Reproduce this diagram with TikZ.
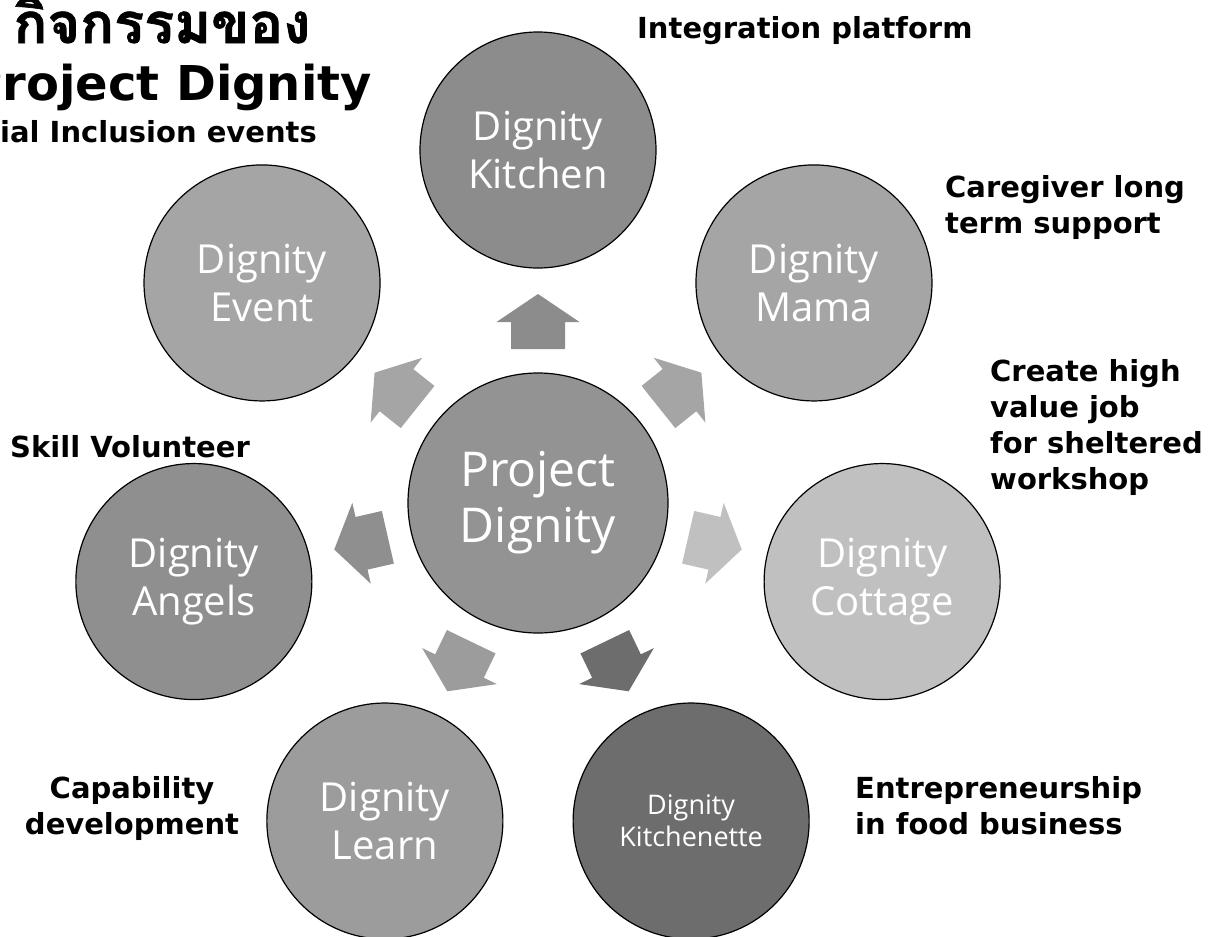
\documentclass[tikz,border=0pt]{standalone}
\usepackage{fontspec}
\setmainfont{DejaVu Sans}
\newfontfamily\circfont{Open Sans}
\newfontfamily\thaifont[Script=Thai, FakeBold=1.2]{Loma}
\definecolor{centrec}{HTML}{939393}
\definecolor{kitchenc}{HTML}{8C8C8C}
\definecolor{mamac}{HTML}{A5A5A5}
\definecolor{cottagec}{HTML}{C0C0C0}
\definecolor{kitchenettec}{HTML}{6D6D6D}
\definecolor{learnc}{HTML}{9C9C9C}
\definecolor{angelsc}{HTML}{8F8F8F}
\definecolor{eventc}{HTML}{A5A5A5}
\begin{document}
\begin{tikzpicture}[x=1bp, y=-1bp,
		bubble/.style={circle, draw=black, line width=1.2bp, minimum size=236bp, inner sep=0pt,
			text=white, align=center, font=\circfont\fontsize{40bp}{48bp}\selectfont},
		tag/.style={font=\bfseries\fontsize{29bp}{36bp}\selectfont, inner sep=0pt}]
			\useasboundingbox (0,0) rectangle (1219,937);
			\clip (0,0) rectangle (1219,937);
			
			% hub and satellites
			\node[bubble, fill=centrec, minimum size=260bp, font=\circfont\fontsize{48bp}{56bp}\selectfont] (pd) at (538,503) {Project\\Dignity};
			\node[bubble, fill=kitchenc] (kitchen) at ([shift={(-90:353)}]pd) {Dignity\\Kitchen};
			\node[bubble, fill=mamac] (mama) at ([shift={(-38.57:353)}]pd) {Dignity\\Mama};
			\node[bubble, fill=cottagec] (cottage) at ([shift={(12.86:353)}]pd) {Dignity\\Cottage};
			\node[bubble, fill=kitchenettec, font=\circfont\fontsize{27bp}{32bp}\selectfont] (kitchenette) at ([shift={(64.29:353)}]pd) {Dignity\\Kitchenette};
			\node[bubble, fill=learnc] (learn) at ([shift={(115.71:353)}]pd) {Dignity\\Learn};
			\node[bubble, fill=angelsc] (angels) at ([shift={(167.14:353)}]pd) {Dignity\\Angels};
			\node[bubble, fill=eventc] (event) at ([shift={(218.57:353)}]pd) {Dignity\\Event};
			
			% block arrows
			\foreach \a/\c in {90/kitchenc, 38.57/mamac, -12.86/cottagec, -64.29/kitchenettec,
				-115.71/learnc, -167.14/angelsc, 141.43/eventc}
				\fill[\c, shift={(pd)}, rotate=\a] (154,-27) -- (181,-27) -- (181,-41.5) -- (209,0)
					-- (181,41.5) -- (181,27) -- (154,27) -- cycle;
			
			% title
			\node[inner sep=0pt, anchor=base, font=\thaifont\bfseries\fontsize{56bp}{62bp}\selectfont] (titleth) at (162,43) {กิจกรรมของ};
			\node[inner sep=0pt, anchor=base east, font=\bfseries\fontsize{48bp}{56bp}\selectfont] (titleen) at (372,100) {Project Dignity};
			\node[tag, anchor=base east] (eventtag) at (317,142) {Social Inclusion events};
			
			% captions
			\node[tag, anchor=base west] (kitchentag) at (637,38) {Integration platform};
			\node[tag, anchor=north west, align=left] (mamatag) at (945,175) {Caregiver long\\term support};
			\node[tag, anchor=north west, align=left] (cottagetag) at (990,359) {Create high\\value job\\for sheltered\\workshop};
			\node[tag, anchor=north west, align=left] (kitchenettetag) at (855,776) {Entrepreneurship\\in food business};
			\node[tag, anchor=north, align=center] (learntag) at (132,776) {Capability\\development};
			\node[tag, anchor=base west] (angelstag) at (10,457) {Skill Volunteer};
		\end{tikzpicture}
\end{document}
